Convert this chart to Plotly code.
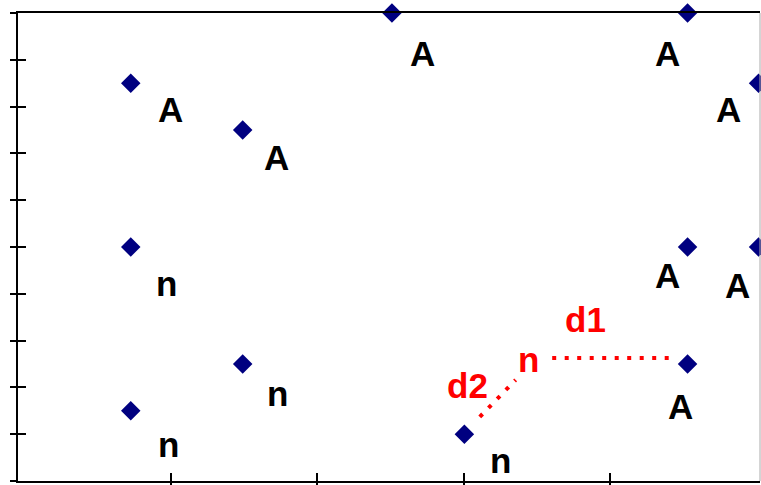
import plotly.graph_objects as go

# scatter points
pts_x = [1.45, 2.98, 5.02, 9.06, 10.03, 1.45, 9.06, 10.03, 2.98, 1.45, 6.01, 9.06]
pts_y = [8.5, 7.5, 10.0, 10.0, 8.5, 5.0, 5.0, 5.0, 2.5, 1.5, 1.0, 2.5]
pts_label = ['A', 'A', 'A', 'A', 'A', 'n', 'A', 'A', 'n', 'n', 'n', 'A']

# red distance construction
d1_x = [7.21, 8.86]
d1_y = [2.63, 2.63]
d2_x = [6.22, 6.71]
d2_y = [1.37, 2.16]
red_text = ['n', 'd1', 'd2']
red_x = [6.89, 7.66, 6.05]
red_y = [2.59, 3.46, 2.05]

x_ticks = [2, 4, 6, 8]
y_ticks = [0, 1, 2, 3, 4, 5, 6, 7, 8, 9, 10]

# pixel offsets of the black labels from their points
label_shift = [(40, -26), (34, -27), (31, -40), (-20, -40), (-30, -26), (36, -36),
               (-20, -28), (-21, -38), (35, -29), (38, -34), (36, -26), (-7, -42)]

FONT = "Liberation Sans, Arial, sans-serif"

fig = go.Figure()

for lx, ly in [(d1_x, d1_y), (d2_x, d2_y)]:
    fig.add_trace(go.Scatter(
        x=lx, y=ly, mode='lines',
        line=dict(color='#ff0000', width=4, dash='4px,8.5px'),
        hoverinfo='skip', showlegend=False
    ))

fig.add_trace(go.Scatter(
    x=pts_x, y=pts_y, mode='markers',
    marker=dict(symbol='diamond', size=15, color='#000080'),
    cliponaxis=False, showlegend=False
))

annotations = []
for px, py, t, (dx, dy) in zip(pts_x, pts_y, pts_label, label_shift):
    annotations.append(dict(
        x=px, y=py, text=t, showarrow=False, xshift=dx, yshift=dy,
        font=dict(family=FONT, size=35, color='black', weight='bold')
    ))
for t, rx, ry in zip(red_text, red_x, red_y):
    annotations.append(dict(
        x=rx, y=ry, text=t, showarrow=False,
        font=dict(family=FONT, size=35, color='#ff0000', weight='bold')
    ))

axis_common = dict(showgrid=False, zeroline=False, showticklabels=False,
                   showline=True, linecolor='black', linewidth=2,
                   tickcolor='black', tickwidth=2, automargin=False)
overlay_common = dict(showgrid=False, zeroline=False, showticklabels=False,
                      showline=False, tickcolor='black', tickwidth=2,
                      automargin=False)

fig.update_layout(
    width=761, height=485,
    margin=dict(l=18, r=1, t=13, b=4, pad=0, autoexpand=False),
    plot_bgcolor='white', paper_bgcolor='white',
    annotations=annotations,
    xaxis=dict(range=[-0.091, 10.05], tickmode='array', tickvals=x_ticks,
               ticks='outside', ticklen=5, mirror=True, **axis_common),
    yaxis=dict(range=[0, 10], tickmode='array', tickvals=y_ticks,
               ticks='outside', ticklen=6, **axis_common),
    xaxis2=dict(range=[-0.091, 10.05], overlaying='x', side='bottom', tickmode='array',
                tickvals=x_ticks, ticks='inside', ticklen=8, **overlay_common),
    yaxis2=dict(range=[0, 10], overlaying='y', side='left', tickmode='array',
                tickvals=y_ticks, ticks='inside', ticklen=8, **overlay_common),
    shapes=[dict(type='line', xref='paper', yref='paper', x0=1, x1=1, y0=0, y1=1,
                 line=dict(color='#aaaaaa', width=1))],
    showlegend=False
)

# invisible trace to activate the overlay axes
fig.add_trace(go.Scatter(x=[None], y=[None], xaxis='x2', yaxis='y2',
                         showlegend=False, hoverinfo='skip'))

# drop the default page margin so the figure sits at the window corner
fig.write_html("out.html", config={'displayModeBar': False},
               post_script="document.body.style.margin='0';")
